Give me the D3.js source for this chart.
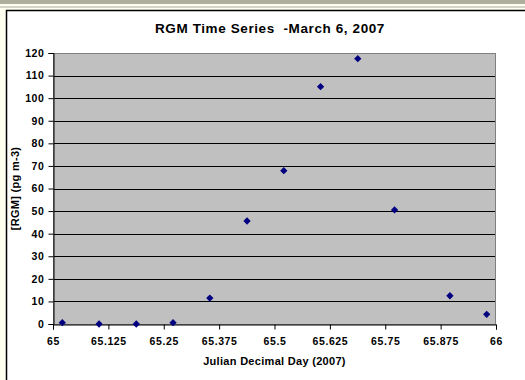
<!DOCTYPE html>
<html>
<head>
<meta charset="utf-8">
<script src="https://cdn.jsdelivr.net/npm/d3@7"></script>
<style>
  body { margin: 0; background: #fffff0; }
  svg { display: block; font-family: "Liberation Sans", Arial, sans-serif; }
</style>
</head>
<body>
<div id="chart"></div>
<script>
// RGM samples, March 6 2007 (Julian decimal day vs pg m-3)
var days = [65.021, 65.104, 65.188, 65.271, 65.354, 65.438, 65.521, 65.604, 65.688, 65.771, 65.896, 65.979];
var rgm = [0.6, 0, 0, 0.6, 11.5, 45.6, 67.9, 105.1, 117.5, 50.5, 12.5, 4.3];
var xTicks = [65, 65.125, 65.25, 65.375, 65.5, 65.625, 65.75, 65.875, 66];
var yTicks = [0, 10, 20, 30, 40, 50, 60, 70, 80, 90, 100, 110, 120];

var width = 525, height = 380;
var plot = { left: 53, top: 53, right: 496, bottom: 324 };

var svg = d3.select('#chart').append('svg').attr('width', width).attr('height', height);

// window frame bits
svg.append('rect').attr('x', 0).attr('y', 0).attr('width', width).attr('height', height).attr('fill', '#fffff0');
svg.append('rect').attr('x', 0).attr('y', 0).attr('width', width).attr('height', 4).attr('fill', '#aeae9e');
svg.append('rect').attr('x', 0).attr('y', 6).attr('width', width).attr('height', 2).attr('fill', '#d4d4c8');
svg.append('rect').attr('x', 6.5).attr('y', 10.5).attr('width', width + 10).attr('height', height + 10)
    .attr('fill', 'white').attr('stroke', 'black').attr('stroke-width', 1.5);

var x = d3.scaleLinear().domain([65, 66]).range([plot.left, plot.right]);
var y = d3.scaleLinear().domain([0, 120]).range([plot.bottom, plot.top]);

svg.append('rect')
    .attr('x', plot.left).attr('y', plot.top)
    .attr('width', plot.right - plot.left).attr('height', plot.bottom - plot.top)
    .attr('fill', '#c0c0c0');

svg.append('g').selectAll('line')
    .data(yTicks.filter(function (d) { return d > 0 && d < 120; }))
    .enter().append('line')
    .attr('x1', plot.left).attr('x2', plot.right)
    .attr('y1', function (d) { return Math.round(y(d)) + 0.5; })
    .attr('y2', function (d) { return Math.round(y(d)) + 0.5; })
    .attr('stroke', 'black');

svg.append('rect')
    .attr('x', plot.left + 0.5).attr('y', plot.top + 0.5)
    .attr('width', plot.right - plot.left - 1).attr('height', plot.bottom - plot.top)
    .attr('fill', 'none').attr('stroke', '#808080');

var yAxis = svg.append('g')
    .attr('transform', 'translate(' + (plot.left + 0.5) + ',0)')
    .call(d3.axisLeft(y).tickValues(yTicks).tickSize(5).tickPadding(4).tickFormat(d3.format('d')));

var xAxis = svg.append('g')
    .attr('transform', 'translate(0,' + (plot.bottom + 0.5) + ')')
    .call(d3.axisBottom(x).tickValues(xTicks).tickSize(5).tickPadding(8).tickFormat(function (d) { return String(+d.toFixed(3)); }));

[yAxis, xAxis].forEach(function (g) {
    g.select('.domain').attr('stroke', 'black');
    g.selectAll('.tick line').attr('stroke', 'black');
    g.selectAll('text').attr('fill', 'black').attr('font-size', '10.5px').attr('font-weight', 'bold')
        .attr('letter-spacing', '0.6px')
        .attr('font-family', '"Liberation Sans", Arial, sans-serif');
});

svg.append('g').selectAll('path')
    .data(days)
    .enter().append('path')
    .attr('d', d3.symbol().type(d3.symbolDiamond2).size(34))
    .attr('transform', function (d, i) { return 'translate(' + x(d) + ',' + y(rgm[i]) + ')'; })
    .attr('fill', '#000080');

svg.append('text')
    .attr('x', 270).attr('y', 33)
    .attr('text-anchor', 'middle')
    .attr('font-size', '13.5px').attr('font-weight', 'bold')
    .attr('letter-spacing', '0.6px')
    .style('white-space', 'pre')
    .text('RGM Time Series  -March 6, 2007');

svg.append('text')
    .attr('x', (plot.left + plot.right) / 2).attr('y', 365)
    .attr('text-anchor', 'middle')
    .attr('font-size', '11px').attr('font-weight', 'bold')
    .attr('letter-spacing', '0.3px')
    .text('Julian Decimal Day (2007)');

svg.append('text')
    .attr('transform', 'translate(19,' + (plot.top + plot.bottom) / 2 + ') rotate(-90)')
    .attr('text-anchor', 'middle')
    .attr('font-size', '11px').attr('font-weight', 'bold')
    .attr('letter-spacing', '0.3px')
    .text('[RGM] (pg m-3)');
</script>
</body>
</html>
